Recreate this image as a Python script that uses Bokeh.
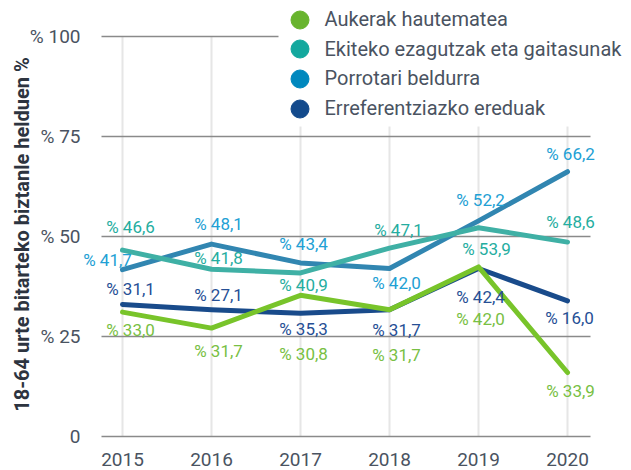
import math
from bokeh.plotting import figure
from bokeh.models import (ColumnDataSource, FixedTicker, Legend, LegendItem, Label,
                          Range1d, BoxAnnotation)
from bokeh.core.properties import value
from bokeh.embed import file_html
from bokeh.resources import INLINE

# ---- data ----
years = [2015, 2016, 2017, 2018, 2019, 2020]
series_names = ["Aukerak hautematea", "Ekiteko ezagutzak eta gaitasunak",
                "Porrotari beldurra", "Erreferentziazko ereduak"]
aukerak = [31.1, 27.1, 35.3, 31.7, 42.4, 16.0]
ekiteko = [46.6, 41.8, 40.9, 47.1, 52.2, 48.6]
porrotari = [41.7, 48.1, 43.4, 42.0, 53.9, 66.2]
erreferentzia = [33.0, 31.7, 30.8, 31.7, 42.0, 33.9]

# data labels as printed on the chart
lbl_green = [33.0, 31.7, 30.8, 31.7, 42.0, 33.9]
lbl_teal = [46.6, 41.8, 40.9, 47.1, 53.9, 48.6]
lbl_blue = [41.7, 48.1, 43.4, 42.0, 52.2, 66.2]
lbl_dark = [31.1, 27.1, 35.3, 31.7, 42.4, 16.0]

y_ticks = [0, 25, 50, 75, 100]
y_tick_labels = ["0", "% 25", "% 50", "% 75", "% 100"]
y_title = "18-64 urte bitarteko biztanle helduen %"

# ---- layout / styling ----
W, H = 631, 470
FONT = "Roboto"
TXT = "#4a5361"
line_cols = {"green": "#78c42a", "teal": "#3fb0a5", "blue": "#3186b1", "dark": "#194b8b"}
lbl_cols = {"green": "#78c043", "teal": "#25ada0", "blue": "#22a0d4", "dark": "#264f95"}
leg_cols = ["#68b42e", "#13a89e", "#0088be", "#134a8c"]

PX_PER_YEAR = 89.0
PX_PER_UNIT = 4.0
X0_PX, Y0_PX = 122.0, 436.0          # pixel position of first year / value 0
x_start = years[0] - X0_PX / PX_PER_YEAR
x_end = x_start + W / PX_PER_YEAR
y_start = -(H - Y0_PX) / PX_PER_UNIT
y_end = y_start + H / PX_PER_UNIT


def px_x(px):
    return x_start + px / PX_PER_YEAR


def px_y(py):
    return y_start + (H - py) / PX_PER_UNIT


grid_left, grid_right = px_x(101), px_x(590)

# label pixel offsets (layout)
off = {
    "blue": ([-15, 7, 3, 7, 2, 3], [-10, -20, -19, 14, -28, -18]),
    "teal": ([8, 7, 3, 9, 8, 3], [-23, -11, 12, -18, 28, -20]),
    "dark": ([8, 7, 3, 7, 2, 2], [-23, -33, 34, 20, 30, -55]),
    "green": ([8, 7, 3, 7, 2, 3], [25, 41, 41, 45, 50, 90]),
}

p = figure(width=W, height=H,
           x_range=Range1d(x_start, x_end), y_range=Range1d(y_start, y_end),
           output_backend="svg", toolbar_location=None,
           min_border_left=0, min_border_right=0, min_border_top=0, min_border_bottom=0)
p.outline_line_color = None
p.background_fill_color = "white"
p.xgrid.visible = False
p.ygrid.visible = False

# axes (fixed inside the frame)
p.yaxis.fixed_location = grid_left
p.yaxis.ticker = FixedTicker(ticks=y_ticks)
p.yaxis.major_label_overrides = {t: l for t, l in zip(y_ticks, y_tick_labels)}
p.yaxis.axis_line_color = None
p.yaxis.major_tick_line_color = None
p.yaxis.minor_tick_line_color = None
p.yaxis.major_label_standoff = 15
p.yaxis.major_label_text_font = FONT
p.yaxis.major_label_text_font_size = "19px"
p.yaxis.major_label_text_color = TXT

p.xaxis.fixed_location = 0
p.xaxis.ticker = FixedTicker(ticks=years)
p.xaxis.axis_line_color = None
p.xaxis.major_tick_line_color = None
p.xaxis.minor_tick_line_color = None
p.xaxis.major_label_standoff = 10
p.xaxis.major_label_text_font = FONT
p.xaxis.major_label_text_font_size = "19px"
p.xaxis.major_label_text_color = TXT

# grid lines built from the tick lists
p.segment(x0=years, x1=years, y0=[min(y_ticks)] * len(years), y1=[max(y_ticks)] * len(years),
          line_color="#e6e6e6", line_width=2)
p.segment(x0=[grid_left] * len(y_ticks), x1=[grid_right] * len(y_ticks), y0=y_ticks, y1=y_ticks,
          line_color="#8a8a8a", line_width=1.5)

# lines
for vals, key in [(erreferentzia, "dark"), (porrotari, "blue"), (ekiteko, "teal"), (aukerak, "green")]:
    p.line(years, vals, line_width=5, color=line_cols[key], line_cap="round", line_join="round")


# data labels
def fmt(v):
    return "% " + f"{v:.1f}".replace(".", ",")


for vals, key in [(lbl_blue, "blue"), (lbl_teal, "teal"), (lbl_dark, "dark"), (lbl_green, "green")]:
    src = ColumnDataSource(dict(x=years, y=vals, t=[fmt(v) for v in vals],
                                dx=off[key][0], dy=off[key][1]))
    p.text(x="x", y="y", text="t", x_offset="dx", y_offset="dy", source=src,
           text_font=value(FONT), text_font_size="17px", text_color=lbl_cols[key],
           text_align="center", text_baseline="middle")

# white backdrop for the legend
p.add_layout(BoxAnnotation(left=px_x(278), right=px_x(W + 5), top=px_y(-5), bottom=px_y(126),
                           fill_color="white", fill_alpha=1, line_color=None))

# legend: one Legend per row (dummy renderers, no visible data)
nan = float("nan")
row_centers = [19, 48.7, 78.3, 108]
for name, col, cy in zip(series_names, leg_cols, row_centers):
    r = p.scatter(x=[nan], y=[nan], size=18, color=col, marker="circle")
    lg = Legend(items=[LegendItem(label=name, renderers=[r])],
                location=(299 - 22.5, H - (cy + 22.5)), orientation="vertical",
                glyph_width=45, glyph_height=45, spacing=0, padding=0, margin=0,
                label_standoff=3, label_text_font=FONT, label_text_font_size="20px",
                label_text_color=TXT, background_fill_alpha=0, border_line_color=None)
    p.add_layout(lg)

# y title
p.add_layout(Label(x=21, y=H - 234, x_units="screen", y_units="screen", text=y_title,
                   angle=math.pi / 2, text_align="center", text_baseline="middle",
                   text_font=FONT, text_font_style="bold", text_font_size="20px",
                   text_color="#2d3440"))

open("out.html", "w").write(file_html(p, INLINE))
